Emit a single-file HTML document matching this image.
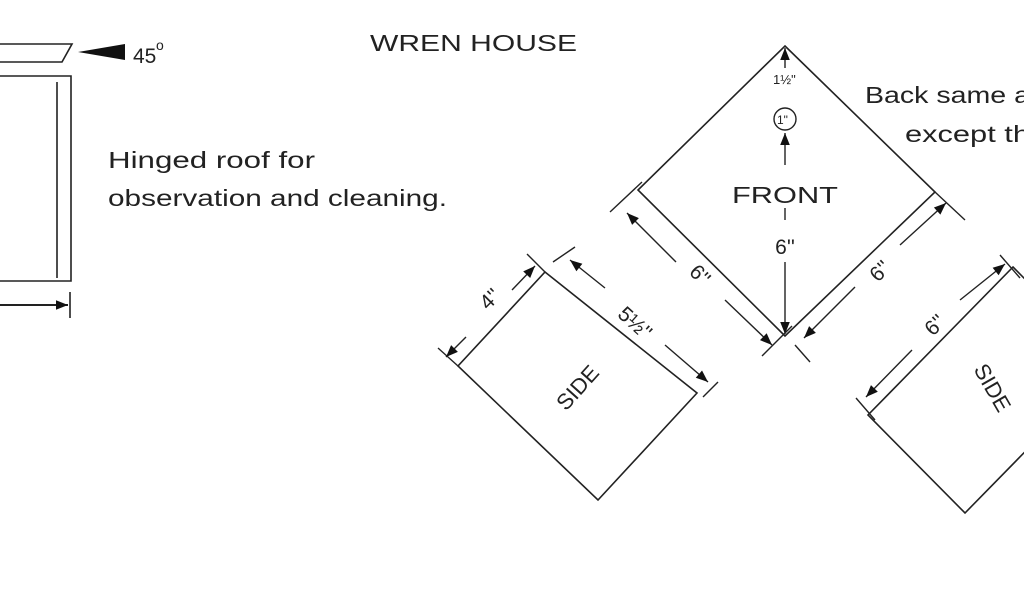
<!DOCTYPE html>
<html><head><style>
html,body{margin:0;padding:0;background:#fff;}
svg{display:block;}
text{font-family:"Liberation Sans",sans-serif;fill:#222;}
</style></head><body>
<svg width="1024" height="600" viewBox="0 0 1024 600" xmlns="http://www.w3.org/2000/svg">
<defs>
<marker id="b" viewBox="0 0 10 10" refX="10" refY="5" markerWidth="14" markerHeight="12" markerUnits="userSpaceOnUse" orient="auto-start-reverse"><path d="M0,1 L10,5 L0,9 z" fill="#111"/></marker>
</defs>
<g stroke="#222" stroke-width="1.6" fill="none">
<path d="M0,44 L72,44 L62,62 L0,62"/>
<path d="M0,76 L71,76 L71,281 L0,281"/>
<path d="M57,82 L57,278"/>
<path d="M0,305 L68,305" marker-end="url(#b)" stroke-width="2"/>
<path d="M70,292 L70,318"/>
<polygon points="785,46 935,192 785,336 638,190"/>
<polygon points="545,272 697,393 598,500 458,366"/>
<polygon points="1013,267 1110,365 965,513 868,415"/>
</g>
<g stroke="#222" stroke-width="1.4" fill="none">
<path d="M785,68 L785,48" marker-end="url(#b)"/>
<circle cx="785" cy="119" r="11"/>
<path d="M785,165 L785,133" marker-end="url(#b)"/>
<path d="M785,208 L785,220"/>
<path d="M785,262 L785,334" marker-end="url(#b)"/>
<path d="M610,212 L642,182"/>
<path d="M762,356 L792,326"/>
<path d="M676,262 L627,213" marker-end="url(#b)"/>
<path d="M725,300 L772,345" marker-end="url(#b)"/>
<path d="M935,192 L965,220"/>
<path d="M795,345 L810,362"/>
<path d="M900,245 L946,203" marker-end="url(#b)"/>
<path d="M855,287 L804,338" marker-end="url(#b)"/>
<path d="M545,272 L527,254"/>
<path d="M458,366 L438,348"/>
<path d="M512,290 L535,266" marker-end="url(#b)"/>
<path d="M466,337 L446,357" marker-end="url(#b)"/>
<path d="M553,262 L575,247"/>
<path d="M703,397 L718,382"/>
<path d="M605,288 L570,260" marker-end="url(#b)"/>
<path d="M665,345 L708,382" marker-end="url(#b)"/>
<path d="M1000,255 L1020,278"/>
<path d="M856,398 L875,420"/>
<path d="M960,300 L1005,264" marker-end="url(#b)"/>
<path d="M912,350 L866,397" marker-end="url(#b)"/>
</g>
<path d="M78,52 L125,44 L125,60 z" fill="#111"/>
<text x="133" y="63" font-size="21">45</text>
<text x="156" y="50" font-size="14">o</text>
<text x="370" y="51" font-size="23" textLength="207" lengthAdjust="spacingAndGlyphs">WREN HOUSE</text>
<text x="108" y="168" font-size="23" textLength="207" lengthAdjust="spacingAndGlyphs">Hinged roof for</text>
<text x="108" y="206" font-size="23" textLength="339" lengthAdjust="spacingAndGlyphs">observation and cleaning.</text>
<text x="865" y="103" font-size="23" textLength="165" lengthAdjust="spacingAndGlyphs">Back same a</text>
<text x="905" y="142" font-size="23" textLength="125" lengthAdjust="spacingAndGlyphs">except th</text>
<text x="773" y="84" font-size="13">1½"</text>
<text x="777" y="124" font-size="12">1"</text>
<text x="785" y="203" font-size="23" text-anchor="middle" textLength="106" lengthAdjust="spacingAndGlyphs">FRONT</text>
<text x="785" y="254" font-size="21" text-anchor="middle">6''</text>
<text x="700" y="282" font-size="21" text-anchor="middle" transform="rotate(45 700 275)">6''</text>
<text x="880" y="278" font-size="21" text-anchor="middle" transform="rotate(-45 880 271)">6''</text>
<text x="490" y="306" font-size="21" text-anchor="middle" transform="rotate(-45 490 299)">4''</text>
<text x="635" y="330" font-size="21" text-anchor="middle" transform="rotate(42 635 323)">5½''</text>
<text x="935" y="332" font-size="21" text-anchor="middle" transform="rotate(-45 935 325)">6''</text>
<text x="578" y="395" font-size="22" text-anchor="middle" transform="rotate(-48 578 388)">SIDE</text>
<text x="992" y="395" font-size="22" text-anchor="middle" transform="rotate(60 992 388)">SIDE</text>
</svg>
</body></html>
